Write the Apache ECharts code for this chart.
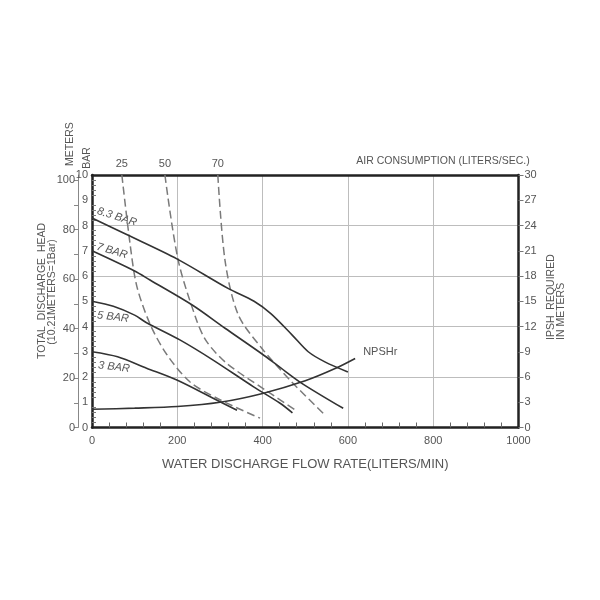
<!DOCTYPE html>
<html><head><meta charset="utf-8">
<script src="https://cdn.jsdelivr.net/npm/echarts@6/dist/echarts.min.js"></script>
<style>html,body{margin:0;background:#fff}#c{width:600px;height:600px}</style>
</head><body><div id="c"></div>
<script>
// ---- data (flow L/min, head bar) ----
const bar83 = [[0,8.3],[80,7.65],[200,6.67],[320,5.5],[380,5.0],[420,4.5],[470,3.65],[507,3.0],[546,2.6],[600,2.2]];
const bar7  = [[0,7.0],[100,6.2],[136,5.84],[235,4.85],[312,3.93],[398,2.92],[441,2.38],[492,1.75],[589,0.76]];
const bar5  = [[0,5.0],[50,4.8],[100,4.45],[128,4.15],[206,3.47],[284,2.67],[378,1.62],[441,0.96],[470,0.58]];
const bar3  = [[0,3.0],[60,2.8],[128,2.35],[199,1.88],[284,1.16],[340,0.68]];
const air25 = [[70,10],[89,7.3],[105,5.6],[136,4.1],[175,2.9],[230,1.8],[300,1.1],[394,0.37]];
const air50 = [[171,10],[202,6.63],[245,4.26],[269,3.4],[316,2.54],[405,1.5],[478,0.68]];
const air70 = [[295,10],[312,6.6],[343,4.46],[398,3.14],[468,1.81],[546,0.5]];
const npshr = [[0,2.16],[100,2.3],[200,2.5],[300,3.0],[400,4.05],[500,5.55],[570,7.0],[617,8.2]];
const barNames = ['8.3 BAR','7 BAR','5 BAR','3 BAR'];
const airNames = ['25','50','70'];
const meterLabels = [0,20,40,60,80,100];
const meterTicks = [0,10,20,30,40,50,60,70,80,90,100];

const FONT = 'Liberation Sans, Arial, sans-serif';
const TXT = '#555';
const chart = echarts.init(document.getElementById('c'));

function airSeries(data, name) {
  return {
    type: 'line', xAxisIndex: 0, yAxisIndex: 0, smooth: 0.3, silent: true,
    showSymbol: true, symbolSize: 0,
    lineStyle: { color: '#7a7a7a', width: 1.5, type: [8, 4] },
    label: { show: false },
    data: data.map((p, i) => i === 0
      ? { value: p, label: { show: true, position: 'top', distance: 6, formatter: name, color: TXT, fontSize: 11, fontFamily: FONT } }
      : { value: p })
  };
}
function barSeries(data) {
  return { type: 'line', xAxisIndex: 0, yAxisIndex: 0, smooth: 0.3, showSymbol: false, silent: true,
    lineStyle: { color: '#333', width: 1.6 }, data: data };
}

chart.setOption({
  animation: false,
  grid: { left: 92, right: 81.5, top: 175, bottom: 172.5, show: false },
  xAxis: [
    { type: 'value', min: 0, max: 1000, interval: 200, position: 'bottom',
      axisLine: { show: true, onZero: false, lineStyle: { color: '#222', width: 2.5 } },
      axisTick: { show: false, inside: true },
      minorTick: { show: true, splitNumber: 5, length: 5, lineStyle: { color: '#666', width: 1 } },
      axisLabel: { color: TXT, fontSize: 11, fontFamily: FONT, margin: 8, formatter: v => String(v) },
      splitLine: { show: true, lineStyle: { color: '#bdbdbd', width: 1 } },
      name: 'WATER DISCHARGE FLOW RATE(LITERS/MIN)', nameLocation: 'middle', nameGap: 30,
      nameTextStyle: { color: TXT, fontSize: 13, fontFamily: FONT } },
    { type: 'value', min: 0, max: 1000, position: 'top',
      axisLine: { show: true, onZero: false, lineStyle: { color: '#222', width: 2.5 } },
      axisTick: { show: false }, axisLabel: { show: false }, splitLine: { show: false } }
  ],
  yAxis: [
    { type: 'value', min: 0, max: 10, interval: 1, position: 'left',
      axisLine: { show: true, onZero: false, lineStyle: { color: '#222', width: 2.5 } },
      axisTick: { show: false, inside: true },
      minorTick: { show: true, splitNumber: 5, length: 4, lineStyle: { color: '#777', width: 1 } },
      axisLabel: { color: TXT, fontSize: 11, fontFamily: FONT, margin: 4 },
      splitLine: { show: false } },
    { type: 'value', min: 0, max: 102.1, position: 'left', offset: 14,
      axisLine: { show: true, onZero: false, lineStyle: { color: '#888', width: 1 } },
      axisTick: { show: true, customValues: meterTicks, length: 4, lineStyle: { color: '#888' } },
      axisLabel: { customValues: meterLabels, color: TXT, fontSize: 11, fontFamily: FONT, margin: 3 },
      splitLine: { show: false } },
    { type: 'value', min: 0, max: 30, interval: 3, position: 'right',
      axisLine: { show: true, onZero: false, lineStyle: { color: '#222', width: 2.5 } },
      axisTick: { show: true, length: 5, lineStyle: { color: '#777' } },
      axisLabel: { color: TXT, fontSize: 11, fontFamily: FONT, margin: 6 },
      splitLine: { show: false } },
    { type: 'value', min: 0, max: 10, interval: 2, position: 'left', show: true,
      axisLine: { show: false }, axisTick: { show: false }, axisLabel: { show: false },
      splitLine: { show: true, lineStyle: { color: '#bdbdbd', width: 1 } } }
  ],
  graphic: [
    { type: 'text', x: 70, y: 144, rotation: Math.PI / 2, style: { text: 'METERS', fill: TXT, font: '10.5px ' + FONT, textAlign: 'center', textVerticalAlign: 'middle' } },
    { type: 'text', x: 87, y: 158, rotation: Math.PI / 2, style: { text: 'BAR', fill: TXT, font: '10.5px ' + FONT, textAlign: 'center', textVerticalAlign: 'middle' } },
    { type: 'text', x: 42, y: 291, rotation: Math.PI / 2, style: { text: 'TOTAL  DISCHARGE  HEAD', fill: TXT, font: '10.5px ' + FONT, textAlign: 'center', textVerticalAlign: 'middle' } },
    { type: 'text', x: 52, y: 292, rotation: Math.PI / 2, style: { text: '(10.21METERS=1Bar)', fill: TXT, font: '10.5px ' + FONT, textAlign: 'center', textVerticalAlign: 'middle' } },
    { type: 'text', x: 551, y: 340, rotation: Math.PI / 2, style: { text: 'IPSH  REQUIRED', fill: TXT, font: '10.5px ' + FONT, textAlign: 'left', textVerticalAlign: 'middle' } },
    { type: 'text', x: 561, y: 340, rotation: Math.PI / 2, style: { text: 'IN METERS', fill: TXT, font: '10.5px ' + FONT, textAlign: 'left', textVerticalAlign: 'middle' } },
    { type: 'text', x: 443, y: 161, style: { text: 'AIR CONSUMPTION (LITERS/SEC.)', fill: TXT, font: '10.5px ' + FONT, textAlign: 'center', textVerticalAlign: 'middle' } },
    { type: 'text', x: 117, y: 217, rotation: -0.3, style: { text: barNames[0], fill: TXT, font: 'italic 11px ' + FONT, textAlign: 'center', textVerticalAlign: 'middle' } },
    { type: 'text', x: 112, y: 251, rotation: -0.28, style: { text: barNames[1], fill: TXT, font: 'italic 11px ' + FONT, textAlign: 'center', textVerticalAlign: 'middle' } },
    { type: 'text', x: 113, y: 317, rotation: -0.12, style: { text: barNames[2], fill: TXT, font: 'italic 11px ' + FONT, textAlign: 'center', textVerticalAlign: 'middle' } },
    { type: 'text', x: 114, y: 367, rotation: -0.12, style: { text: barNames[3], fill: TXT, font: 'italic 11px ' + FONT, textAlign: 'center', textVerticalAlign: 'middle' } }
  ],
  series: [
    airSeries(air25, airNames[0]),
    airSeries(air50, airNames[1]),
    airSeries(air70, airNames[2]),
    barSeries(bar83), barSeries(bar7), barSeries(bar5), barSeries(bar3),
    { type: 'line', xAxisIndex: 0, yAxisIndex: 2, smooth: 0.3, showSymbol: false, silent: true,
      lineStyle: { color: '#333', width: 1.6 }, data: npshr,
      endLabel: { show: true, formatter: 'NPSHr', color: TXT, fontSize: 11, fontFamily: FONT, offset: [0, -7] } }
  ]
});
</script>
</body></html>
